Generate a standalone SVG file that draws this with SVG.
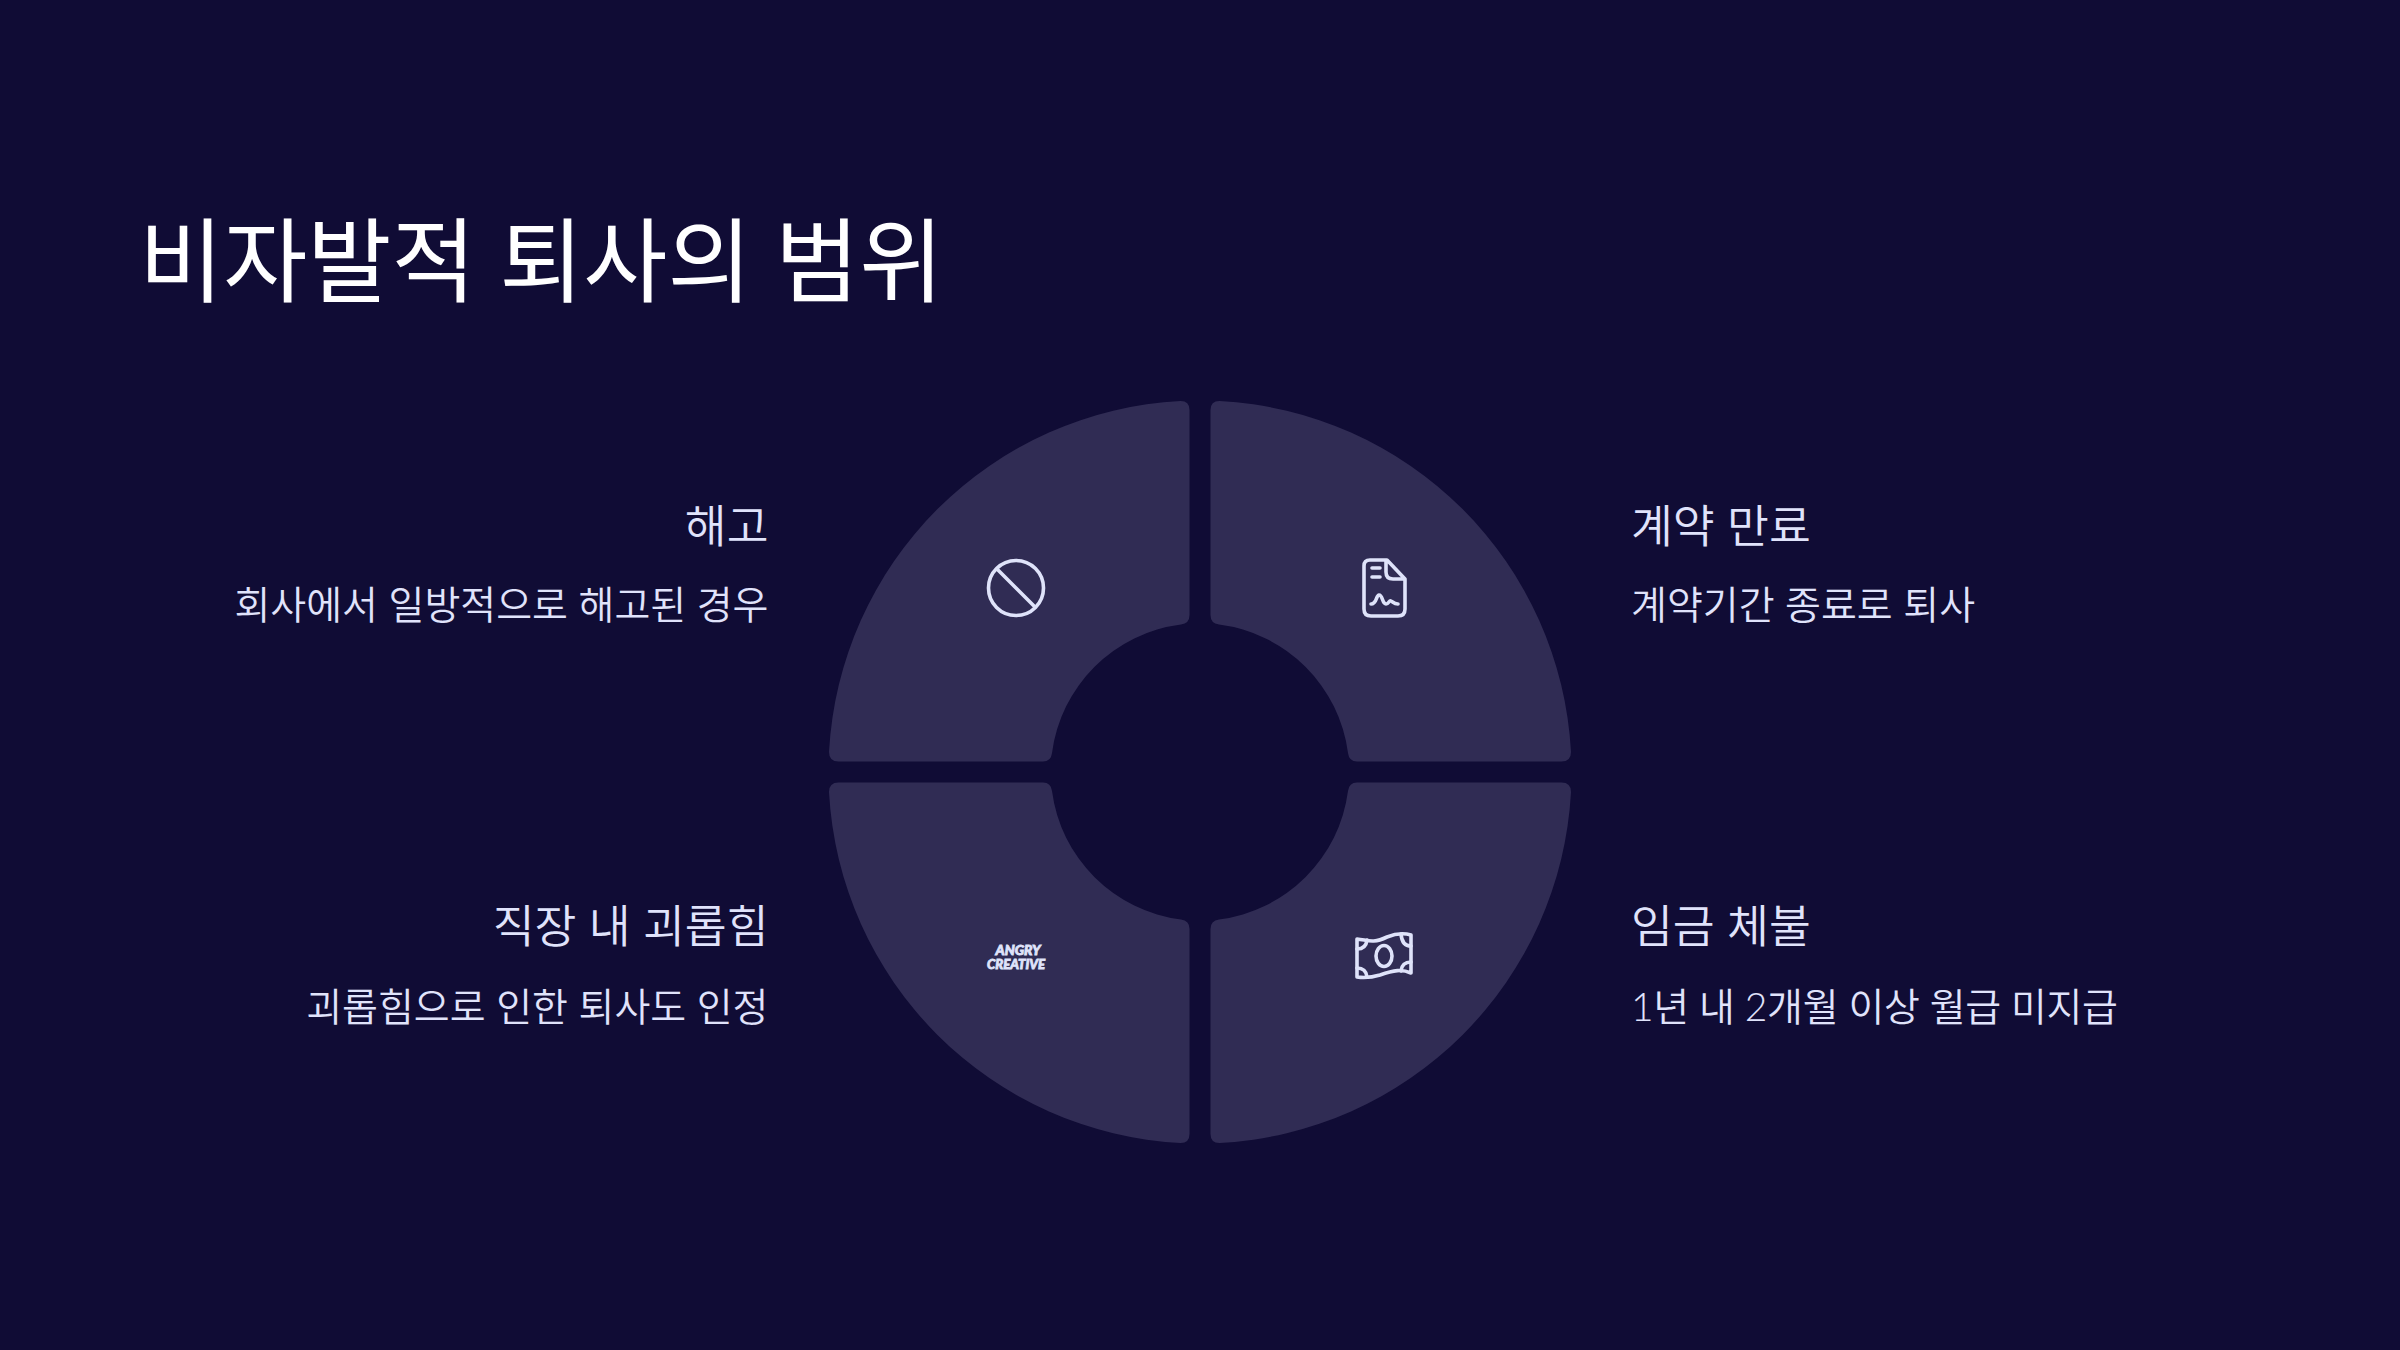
<svg xmlns="http://www.w3.org/2000/svg" width="2400" height="1350" viewBox="0 0 2400 1350">
<defs><style>
text{font-family:"Lato","Noto Sans CJK KR",sans-serif;font-weight:350}
.seg{fill:#302c54}
.t{fill:#fff;font-size:91.500px;font-weight:400}
.h{fill:#e0e3fb;font-size:45.500px}
.b{fill:#e0e3fb;font-size:39px}
.e{text-anchor:end}
.i{fill:none;stroke:#dfe3fa;stroke-width:3.600;stroke-linecap:round;stroke-linejoin:round}
.logo{fill:#dfe3fa;stroke:#dfe3fa;stroke-width:.8;font-family:"Lato",sans-serif;font-style:italic;font-weight:900;font-size:13px;text-anchor:middle}
</style></defs>
<rect width="2400" height="1350" fill="#100c35"/>
<text class="t" x="139" y="295">비자발적 퇴사의 범위</text>
<g id="seg-tl"><path class="seg" d="M1189.500 410Q1189.500 401 1180.500 401A371.500 371.500 0 0 0 829 752Q829 761.500 838.500 761.500H1043Q1051 761.500 1052 753A149 149 0 0 1 1181 624.500Q1189.500 623.500 1189.500 615Z"/>
<circle class="i" cx="1016" cy="588" r="27.500"/><path class="i" d="M998 570L1034 606"/></g>
<g id="seg-tr"><path class="seg" d="M1210.500 410Q1210.500 401 1219.500 401A371.500 371.500 0 0 1 1571 752Q1571 761.500 1561.500 761.500H1357Q1349 761.500 1348 753A149 149 0 0 0 1219 624.500Q1210.500 623.500 1210.500 615Z"/>
<path class="i" d="M1370 560H1387L1405 579V609Q1405 616 1398 616H1371Q1364 616 1364 609V566Q1364 560 1370 560ZM1386 561V572Q1386 579 1393 579H1405M1372 568H1380M1372 577H1380M1371 604C1377 604 1376 595 1379 595C1383 595 1382 604 1386 604C1389 604 1389 600 1391 601C1393 602 1394 604 1398 604"/></g>
<g id="seg-bl"><path class="seg" d="M1189.500 1134Q1189.500 1143 1180.500 1143A371.500 371.500 0 0 1 829 792Q829 782.500 838.500 782.500H1043Q1051 782.500 1052 791A149 149 0 0 0 1181 919.500Q1189.500 920.500 1189.500 929Z"/>
<text class="logo"><tspan x="1018" y="955" textLength="45" lengthAdjust="spacingAndGlyphs">ANGRY</tspan><tspan x="1016" y="969" textLength="58" lengthAdjust="spacingAndGlyphs">CREATIVE</tspan></text></g>
<g id="seg-br"><path class="seg" d="M1210.500 1134Q1210.500 1143 1219.500 1143A371.500 371.500 0 0 0 1571 792Q1571 782.500 1561.500 782.500H1357Q1349 782.500 1348 791A149 149 0 0 1 1219 919.500Q1210.500 920.500 1210.500 929Z"/>
<path class="i" d="M1357 939C1368 940 1372 944 1387 937C1397 933 1404 933 1411 935V973C1402 969 1394 970 1380 975C1370 978 1364 978 1357 977Z"/><ellipse class="i" cx="1384" cy="956" rx="8" ry="10.500"/><path class="i" d="M1357 949Q1366 949 1367 940M1411 946Q1402 946 1401 934M1357 968Q1366 968 1367 977M1411 962Q1402 962 1401 971"/></g>
<g id="label-a"><text class="h e" x="768.500" y="543">해고</text><text class="b e" x="768.500" y="619">회사에서 일방적으로 해고된 경우</text></g>
<g id="label-b"><text class="h" x="1631" y="543">계약 만료</text><text class="b" x="1631" y="619">계약기간 종료로 퇴사</text></g>
<g id="label-c"><text class="h e" x="768.500" y="943">직장 내 괴롭힘</text><text class="b e" x="768.500" y="1021">괴롭힘으로 인한 퇴사도 인정</text></g>
<g id="label-d"><text class="h" x="1631" y="943">임금 체불</text><text class="b" x="1631" y="1021" textLength="487">1년 내 2개월 이상 월급 미지급</text></g>
</svg>
